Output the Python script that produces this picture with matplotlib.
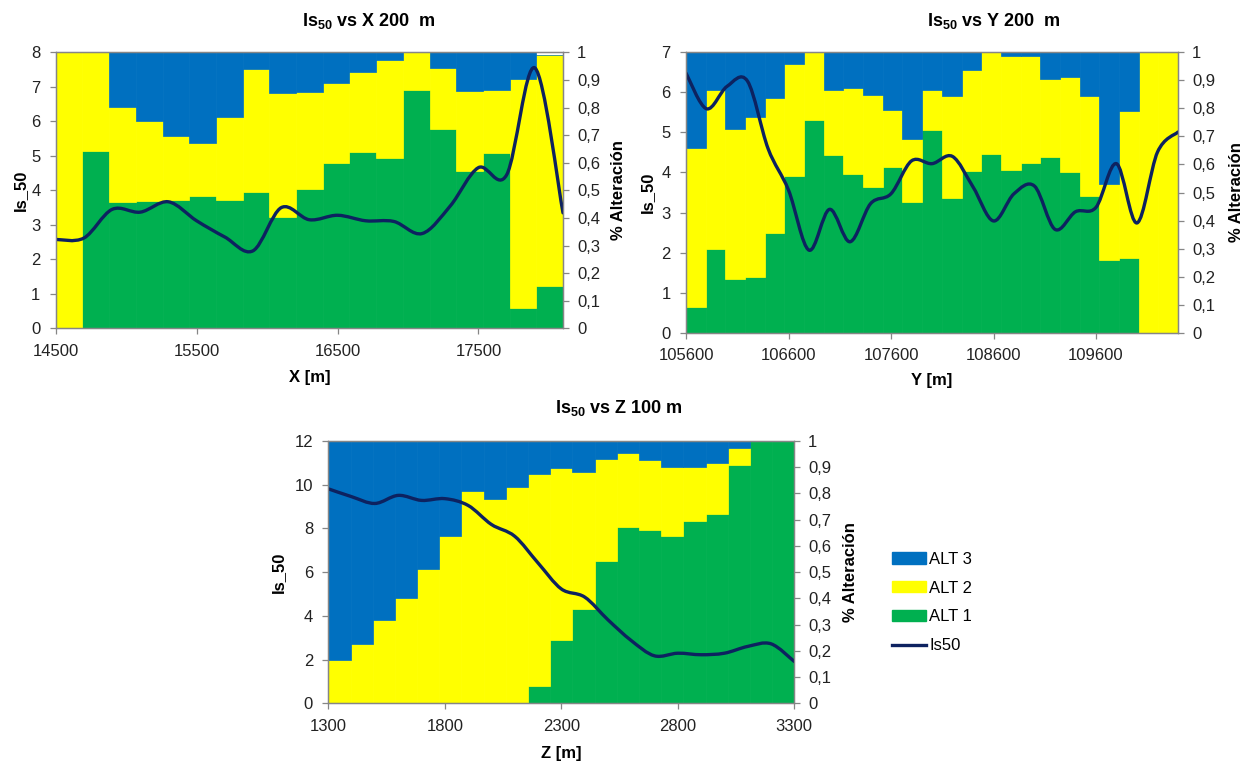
import numpy as np
import matplotlib
matplotlib.use("Agg")
import matplotlib.pyplot as plt
from matplotlib.path import Path
from matplotlib.patches import PathPatch, Patch
from matplotlib.lines import Line2D
from matplotlib.ticker import FuncFormatter

plt.rcParams['font.family'] = ['Liberation Sans', 'DejaVu Sans']
plt.rcParams['mathtext.fontset'] = 'custom'
plt.rcParams['mathtext.rm'] = 'Liberation Sans'
plt.rcParams['mathtext.default'] = 'regular'

AZUL = '#0070C0'
AMARILLO = '#FFFF00'
VERDE = '#00B050'
LINEA = '#0D2260'
GRIS = '#868686'

# ---- datos X (200 m) ----
x_X = np.arange(14500, 18101, 200)
is50_X = [2.58, 2.62, 3.45, 3.37, 3.67, 3.12, 2.65, 2.25, 3.50, 3.15,
          3.28, 3.12, 3.10, 2.75, 3.55, 4.66, 4.45, 7.55, 3.35]
alt1_X = [0.0, 0.644, 0.457, 0.462, 0.467, 0.481, 0.467, 0.496, 0.405, 0.505,
          0.601, 0.639, 0.617, 0.864, 0.721, 0.571, 0.634, 0.073, 0.155]
alt2_X = [1.0, 0.356, 0.345, 0.290, 0.230, 0.192, 0.298, 0.445, 0.447, 0.351,
          0.287, 0.288, 0.354, 0.136, 0.224, 0.290, 0.230, 0.830, 0.835]
alt3_X = [0.0, 0.0, 0.198, 0.248, 0.303, 0.327, 0.235, 0.059, 0.148, 0.144,
          0.112, 0.073, 0.029, 0.0, 0.055, 0.139, 0.136, 0.097, 0.0]

# ---- datos Y (200 m) ----
x_Y = np.arange(105600, 110401, 200)
is50_Y = [6.48, 5.59, 6.15, 6.28, 4.60, 3.56, 2.06, 3.08, 2.27, 3.22,
          3.47, 4.29, 4.22, 4.40, 3.64, 2.79, 3.47, 3.66, 2.58, 3.02,
          3.13, 4.22, 2.74, 4.51, 5.01]
alt1_Y = [0.093, 0.300, 0.192, 0.200, 0.354, 0.558, 0.760, 0.633, 0.565, 0.520,
          0.591, 0.467, 0.724, 0.482, 0.577, 0.639, 0.582, 0.606, 0.627, 0.572,
          0.487, 0.259, 0.266, 0.0, 0.0]
alt2_Y = [0.566, 0.565, 0.534, 0.570, 0.484, 0.399, 0.240, 0.234, 0.309, 0.327,
          0.205, 0.224, 0.143, 0.361, 0.361, 0.361, 0.406, 0.380, 0.278, 0.340,
          0.356, 0.271, 0.525, 1.0, 1.0]
alt3_Y = [0.341, 0.135, 0.274, 0.230, 0.162, 0.043, 0.0, 0.133, 0.126, 0.153,
          0.204, 0.309, 0.133, 0.157, 0.062, 0.0, 0.012, 0.014, 0.095, 0.088,
          0.157, 0.470, 0.209, 0.0, 0.0]

# ---- datos Z (100 m) ----
x_Z = np.arange(1300, 3301, 100)
is50_Z = [9.81, 9.45, 9.14, 9.51, 9.28, 9.36, 9.05, 8.18, 7.64, 6.42,
          5.23, 4.86, 3.82, 2.87, 2.17, 2.29, 2.22, 2.29, 2.60, 2.72, 1.91]
alt1_Z = [0, 0, 0, 0, 0, 0, 0, 0, 0, 0.064,
          0.242, 0.361, 0.541, 0.671, 0.659, 0.636, 0.694, 0.721, 0.907, 1.0, 1.0]
alt2_Z = [0.166, 0.227, 0.316, 0.403, 0.510, 0.637, 0.809, 0.780, 0.824, 0.811,
          0.655, 0.521, 0.391, 0.282, 0.268, 0.266, 0.208, 0.196, 0.068, 0.0, 0.0]
alt3_Z = [0.834, 0.773, 0.684, 0.597, 0.490, 0.363, 0.191, 0.220, 0.176, 0.125,
          0.103, 0.118, 0.068, 0.047, 0.073, 0.098, 0.098, 0.083, 0.025, 0.0, 0.0]


def CurvaSuave(x, y):
    # linea suavizada tipo Excel (bezier por tramos)
    p = np.column_stack([x, y]).astype(float)
    n = len(p)
    verts = [p[0]]
    codes = [Path.MOVETO]
    for i in range(n - 1):
        p0 = p[i - 1] if i > 0 else p[i]
        p3 = p[i + 2] if i + 2 < n else p[i + 1]
        verts += [p[i] + (p[i + 1] - p0) / 6, p[i + 1] - (p3 - p[i]) / 6, p[i + 1]]
        codes += [Path.CURVE4] * 3
    return Path(verts, codes)


def coma(v, pos):
    return ('%g' % round(v, 1)).replace('.', ',')


def Panel(rect, x, is50, alt1, alt2, alt3, ymax, paso, xticks, xlabel, pos_izq, pos_der, pos_x):
    ax = fig.add_axes(rect)
    ax2 = ax.twinx()
    ax.set_zorder(2)
    ax2.set_zorder(1)
    ax.patch.set_visible(False)

    n = len(alt1)
    bordes = np.linspace(x[0], x[-1], n + 1)
    ancho = bordes[1] - bordes[0]
    a1 = np.array(alt1)
    a2 = np.array(alt2)
    a3 = np.array(alt3)
    ax2.bar(bordes[:-1], a1, width=ancho, align='edge', color=VERDE, edgecolor=VERDE, lw=0.5)
    ax2.bar(bordes[:-1], a2, width=ancho, bottom=a1, align='edge', color=AMARILLO, edgecolor=AMARILLO, lw=0.5)
    ax2.bar(bordes[:-1], a3, width=ancho, bottom=a1 + a2, align='edge', color=AZUL, edgecolor=AZUL, lw=0.5)
    ax2.set_ylim(0, 1)
    ax2.set_yticks(np.linspace(0, 1, 11))
    ax2.yaxis.set_major_formatter(FuncFormatter(coma))

    ax.add_patch(PathPatch(CurvaSuave(x, is50), fill=False, edgecolor=LINEA, lw=2.4,
                           capstyle='round', joinstyle='round'))
    ax.set_xlim(x[0], x[-1])
    ax.set_ylim(0, ymax)
    ax.set_yticks(range(0, ymax + 1, paso))
    ax.set_xticks(xticks)

    for a in (ax, ax2):
        for s in a.spines.values():
            s.set_color(GRIS)
            s.set_linewidth(0.9)
        a.tick_params(labelsize=12, color=GRIS, length=4, width=0.9, labelcolor='#222222')
    ax.tick_params(axis='y', pad=7)
    ax.tick_params(axis='x', pad=7)
    ax2.tick_params(axis='y', pad=6)

    ax.set_ylabel('Is_50', fontsize=12, fontweight='bold', va='center')
    ax.yaxis.set_label_coords(pos_izq, 0.5)
    ax2.set_ylabel('% Alteración', fontsize=12, fontweight='bold', va='center')
    ax2.yaxis.set_label_coords(pos_der, 0.5)
    ax.set_xlabel(xlabel, fontsize=12, fontweight='bold', va='center')
    ax.xaxis.set_label_coords(0.5, pos_x)
    return ax


fig = plt.figure(figsize=(12.56, 7.65), dpi=100)

Panel([0.04435, 0.5706, 0.4039, 0.3610], x_X, is50_X, alt1_X, alt2_X, alt3_X, 8, 1,
      [14500, 15500, 16500, 17500], 'X [m]', -0.070, 1.110, -0.176)
Panel([0.5462, 0.5651, 0.3917, 0.3665], x_Y, is50_Y, alt1_Y, alt2_Y, alt3_Y, 7, 1,
      [105600, 106600, 107600, 108600, 109600], 'Y [m]', -0.079, 1.118, -0.169)
Panel([0.2614, 0.0807, 0.3710, 0.3429], x_Z, is50_Z, alt1_Z, alt2_Z, alt3_Z, 12, 2,
      [1300, 1800, 2300, 2800, 3300], 'Z [m]', -0.108, 1.12, -0.19)

fig.text(369 / 1256, 1 - 21 / 765, r'Is$_{50}$ vs X 200  m', ha='center', va='center',
         fontsize=13, fontweight='bold')
fig.text(994 / 1256, 1 - 21 / 765, r'Is$_{50}$ vs Y 200  m', ha='center', va='center',
         fontsize=13, fontweight='bold')
fig.text(619 / 1256, 1 - 408 / 765, r'Is$_{50}$ vs Z 100 m', ha='center', va='center',
         fontsize=13, fontweight='bold')

handles = [Patch(color=AZUL), Patch(color=AMARILLO), Patch(color=VERDE),
           Line2D([], [], color=LINEA, lw=2.4)]
fig.legend(handles, ['ALT 3', 'ALT 2', 'ALT 1', 'Is50'], loc='center left',
           bbox_to_anchor=(891.7 / 1256, 1 - 602.5 / 765), frameon=False, fontsize=12,
           borderpad=0, borderaxespad=0, handlelength=2.04, handleheight=0.66,
           handletextpad=0.2, labelspacing=0.83)

fig.savefig('out.png', dpi=100)
